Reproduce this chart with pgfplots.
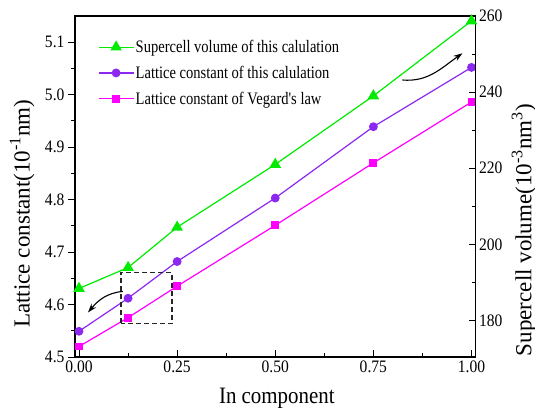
\documentclass[border=0pt]{standalone}
\usepackage{pgfplots}
\pgfplotsset{compat=1.18}
\usepackage{pgfplotstable}
\usepackage{fontspec}
\setmainfont[FakeStretch=0.89]{Liberation Serif}
\newfontfamily\uprightlabel{Liberation Serif}
\newfontfamily\legendfamily[FakeStretch=0.83]{Liberation Serif}
\usetikzlibrary{arrows.meta}

\definecolor{volgreen}{RGB}{0,235,0}
\definecolor{latpurple}{RGB}{140,40,240}
\definecolor{vegpink}{RGB}{255,0,255}

% lattice constants (10^-1 nm): this calculation and Vegard's law
\pgfplotstableread{
x     latt    vegard
0.000 4.549 4.520
0.125 4.612 4.575
0.250 4.682 4.635
0.500 4.803 4.751
0.750 4.939 4.870
1.000 5.052 4.986
}\lattice

% supercell volume (10^-3 nm^3)
\pgfplotstableread{
x     vol
0.000 188.4
0.125 193.9
0.250 204.5
0.500 221.0
0.750 239.0
1.000 258.7
}\volume

\newcommand\xlabelfont{\fontsize{23.5}{25}\selectfont}
\newcommand\ylabelfont{\uprightlabel\fontsize{23}{25}\selectfont}

\pgfplotsset{
  base/.style={
    scale only axis, width=400.5pt, height=341pt,
    xmin=-0.0102, xmax=1.0102,
    axis line style={line width=1.2pt},
    major tick length=7pt, minor tick length=4pt,
    every tick/.style={black, line width=1pt},
    tick label style={font=\fontsize{17.5}{19}\selectfont},
    /pgf/number format/assume math mode=true,
    legend image code/.code={%
      \draw[mark repeat=2,mark phase=2] plot coordinates {(0pt,0pt) (17.5pt,0pt) (35pt,0pt)};},
  },
  volstyle/.style={volgreen, line width=1.2pt, mark=triangle*, mark size=5.5pt},
  latstyle/.style={latpurple, line width=1.2pt, mark=*, mark size=3.8pt},
  vegstyle/.style={vegpink, line width=1.2pt, mark=square*, mark size=3.3pt},
}

\begin{document}
\begin{tikzpicture}
\path[use as bounding box] (-75pt,-55pt) rectangle (460pt,357pt);

\begin{axis}[base,
  ymin=4.5, ymax=5.15,
  xtick={0,0.25,0.5,0.75,1}, minor x tick num=1,
  ytick={4.5,4.6,...,5.1}, minor y tick num=1,
  xtick pos=left, ytick pos=left,
  xtick align=inside, ytick align=outside,
  xticklabel style={/pgf/number format/.cd, fixed, fixed zerofill, precision=2},
  yticklabel style={/pgf/number format/.cd, fixed, fixed zerofill, precision=1},
  xlabel={In component},
  ylabel={Lattice constant(10\textsuperscript{-1}nm)},
  every axis x label/.style={at={(axis description cs:0.504,-0.12)}, anchor=center, font=\xlabelfont},
  every axis y label/.style={at={(axis description cs:-0.132,0.42)}, rotate=90, anchor=center, font=\ylabelfont},
  legend style={at={(axis description cs:0.057,0.934)}, anchor=north west,
    draw=none, fill=none, inner sep=0pt, row sep=9pt,
    font=\legendfamily\fontsize{17.5}{19}\selectfont,
    nodes={inner sep=1.5pt}},
  legend cell align=left,
]
\addlegendimage{volstyle}
\addlegendentry{Supercell volume of this calulation}
\addplot[latstyle] table[x=x, y=latt] {\lattice};
\addlegendentry{Lattice constant of this calulation}
\addplot[vegstyle] table[x=x, y=vegard] {\lattice};
\addlegendentry{Lattice constant of Vegard's law}

% region of interest
\draw[black!85, line width=1.2pt, dash pattern=on 5pt off 3pt]
  (axis cs:0.107,4.564) rectangle (axis cs:0.237,4.661);
% axis pointers
\draw[black, line width=1.1pt, -{Stealth[length=9pt,width=6pt]}]
  (axis cs:0.112,4.625) to[out=185, in=50] (axis cs:0.023,4.585);
\draw[black, line width=1.1pt, -{Stealth[length=9pt,width=6pt]}]
  (axis cs:0.824,5.028) to[out=-5, in=215] (axis cs:0.977,5.079);
\end{axis}

\begin{axis}[base,
  axis x line=none, axis y line*=right,
  ymin=170.4, ymax=260,
  ytick={180,200,...,260}, minor y tick num=1,
  ytick align=inside,
  ylabel={Supercell volume(10\textsuperscript{-3}nm\textsuperscript{3})},
  every axis y label/.style={at={(axis description cs:1.121,0.372)}, rotate=90, anchor=center, font=\ylabelfont},
]
\addplot[volstyle] table[x=x, y=vol] {\volume};
\end{axis}
\end{tikzpicture}
\end{document}
